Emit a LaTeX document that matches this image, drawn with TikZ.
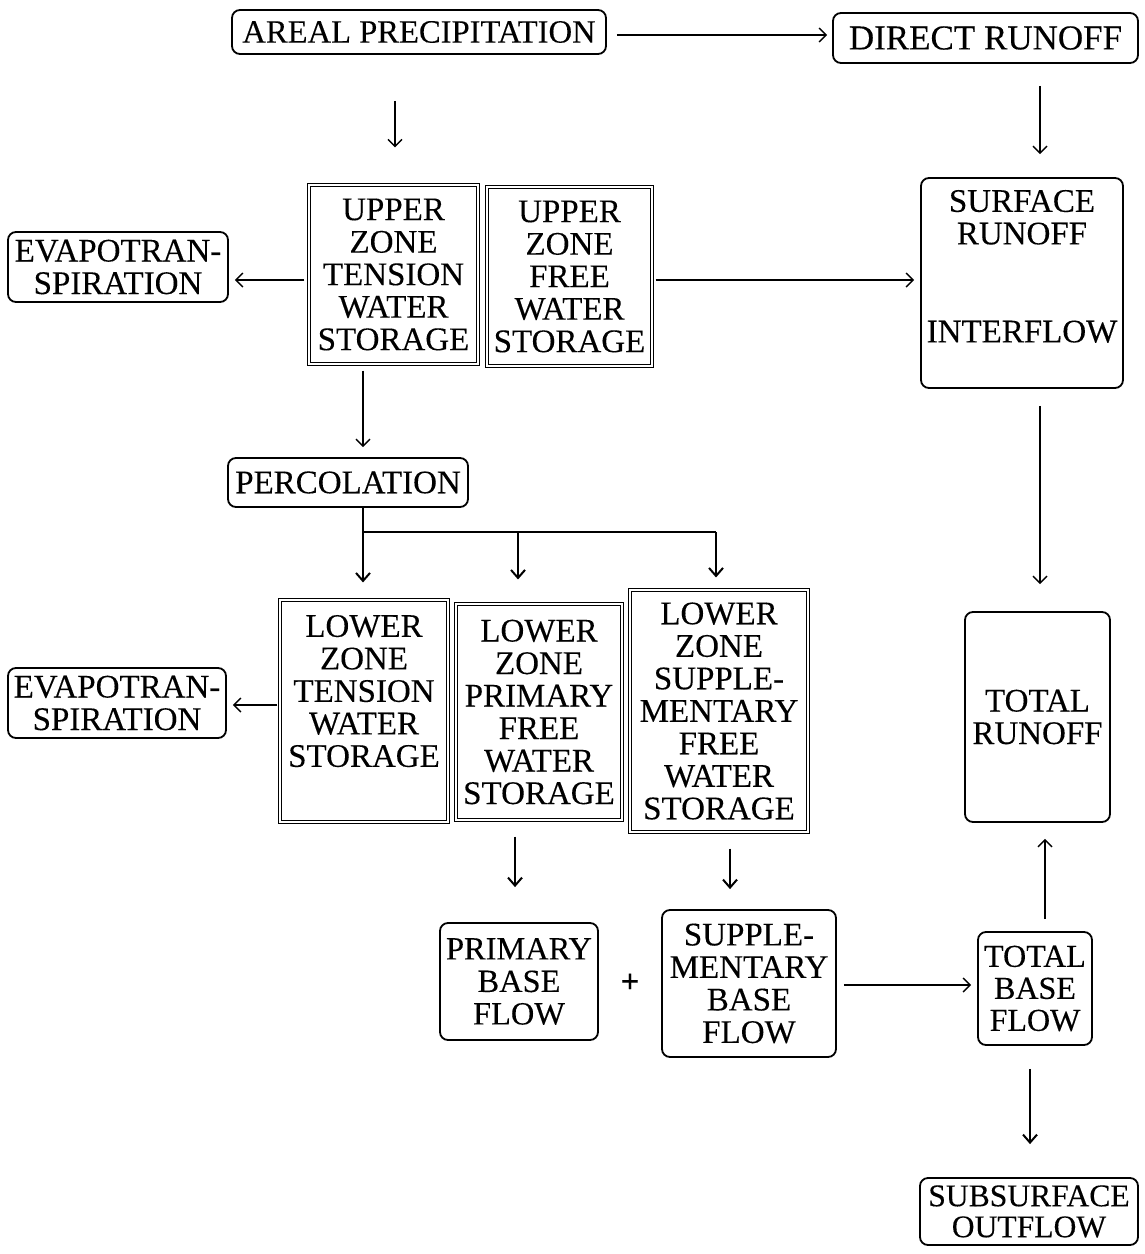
\documentclass[tikz,border=0pt]{standalone}
\usepackage{fontspec}
\setmainfont{Liberation Serif}[FakeBold=0.2]
\usetikzlibrary{arrows.meta}
\newcommand\mytopbox[4]{\parbox[c][#2][t]{#1}{\centering\vspace*{#3}#4}}
\begin{document}
\begin{tikzpicture}[x=0.5pt,y=-0.5pt,
  every node/.style={font=\fontsize{16.5}{16.25}\selectfont},
  rbox/.style={draw, line width=0.9pt, rounded corners=4pt, inner sep=0pt, align=center},
  rboxp/.style={draw, line width=0.9pt, rounded corners=4pt, inner sep=0pt},
  dbox/.style={draw, double, line width=0.55pt, double distance=0.9pt, inner sep=0pt, align=center},
  dboxp/.style={draw, double, line width=0.55pt, double distance=0.9pt, inner sep=0pt},
  arr/.style={line width=0.7pt, -{Straight Barb[length=3.5pt,width=7pt]}},
  arrb/.style={line width=1pt, -{Straight Barb[length=4pt,width=7pt]}}]
\fill[white] (0,0) rectangle (1145,1254);
\useasboundingbox (0,0) rectangle (1145,1254);
% helper coordinates
\coordinate (c395) at (395,0);
\coordinate (c1040) at (1040,0);
\coordinate (c363) at (363,0);
\coordinate (c518) at (518,0);
\coordinate (c716) at (716,0);
\coordinate (c515) at (515,0);
\coordinate (c730) at (730,0);
\coordinate (c1045) at (1045,0);
\coordinate (c1030) at (1030,0);
\coordinate (r35) at (0,35);
\coordinate (r280) at (0,280);
\coordinate (r705) at (0,705);
\coordinate (r985) at (0,985);
\coordinate (j) at (363,532);
% nodes
\node[rbox, font=\fontsize{16.3}{17}\selectfont, minimum width=187pt, minimum height=22pt] (areal) at (419,32) {AREAL PRECIPITATION};
\node[rbox, font=\fontsize{17.5}{18}\selectfont, minimum width=152.5pt, minimum height=25pt] (direct) at (985.5,38) {DIRECT RUNOFF};
\node[dbox, minimum width=84.5pt, minimum height=89.5pt] (uztws) at (393.5,274.5) {UPPER\\ZONE\\TENSION\\WATER\\STORAGE};
\node[dbox, minimum width=82.5pt, minimum height=89.5pt] (uzfws) at (569.5,276.5) {UPPER\\ZONE\\FREE\\WATER\\STORAGE};
\node[rbox, minimum width=110pt, minimum height=35pt] (evapu) at (118,267) {EVAPOTRAN-\\SPIRATION};
\node[rboxp] (surf) at (1022,283) {\mytopbox{101pt}{105pt}{6pt}{SURFACE\\RUNOFF\\[32.75pt]INTERFLOW}};
\node[rbox, minimum width=120pt, minimum height=24.5pt] (perc) at (348,482.5) {PERCOLATION};
\node[rbox, minimum width=109pt, minimum height=35pt] (evapl) at (117,703) {EVAPOTRAN-\\SPIRATION};
\node[dboxp] (lztws) at (364,711) {\mytopbox{84pt}{111pt}{7.5pt}{LOWER\\ZONE\\TENSION\\WATER\\STORAGE}};
\node[dbox, minimum width=83pt, minimum height=108pt] (lzpfws) at (539,712) {LOWER\\ZONE\\PRIMARY\\FREE\\WATER\\STORAGE};
\node[dbox, minimum width=89pt, minimum height=121pt] (lzsfws) at (719,711) {LOWER\\ZONE\\SUPPLE-\\MENTARY\\FREE\\WATER\\STORAGE};
\node[rbox, minimum width=72.5pt, minimum height=105pt] (totrun) at (1037.5,717) {TOTAL\\RUNOFF};
\node[rbox, font=\fontsize{16.2}{16.25}\selectfont, minimum width=79pt, minimum height=58.5pt] (prim) at (519,981.5) {PRIMARY\\BASE\\FLOW};
\node (plus) at (630,983) {\textbf{+}};
\node[rbox, minimum width=87pt, minimum height=73.5pt] (supp) at (749,983.5) {SUPPLE-\\MENTARY\\BASE\\FLOW};
\node[rbox, font=\fontsize{16}{16}\selectfont, minimum width=57pt, minimum height=56.5pt] (totbase) at (1035,988.5) {TOTAL\\BASE\\FLOW};
\node[rbox, font=\fontsize{15.8}{15.5}\selectfont, minimum width=109pt, minimum height=33.5pt] (subout) at (1029,1211.5) {SUBSURFACE\\OUTFLOW};
% connectors
\draw[arr] ([xshift=5pt]areal.east |- r35) -- ([xshift=-2.5pt]direct.west |- r35);
\draw[arr] ([yshift=-23pt]areal.south -| c395) -- ([yshift=18.5pt]uztws.north -| c395);
\draw[arr] ([yshift=-11pt]direct.south -| c1040) -- ([yshift=11.5pt]surf.north -| c1040);
\draw[arr] ([xshift=-2pt]uztws.west |- r280) -- ([xshift=3pt]evapu.east |- r280);
\draw[arr] ([xshift=1.5pt]uzfws.east |- r280) -- ([xshift=-3pt]surf.west |- r280);
\draw[arr] ([yshift=-8.5pt]surf.south -| c1040) -- ([yshift=13.5pt]totrun.north -| c1040);
\draw[arr] ([yshift=-3pt]uztws.south -| c363) -- ([yshift=5pt]perc.north -| c363);
\draw[line width=1pt] (perc.south -| c363) -- (j) -- (j -| c716);
\draw[arrb] (j) -- ([yshift=8.5pt]lztws.north -| c363);
\draw[arrb] (j -| c518) -- ([yshift=12pt]lzpfws.north -| c518);
\draw[arrb] (j -| c716) -- ([yshift=6pt]lzsfws.north -| c716);
\draw[arr] ([xshift=-1pt]lztws.west |- r705) -- ([xshift=3pt]evapl.east |- r705);
\draw[arrb] ([yshift=-8pt]lzpfws.south -| c515) -- ([yshift=17.5pt]prim.north -| c515);
\draw[arrb] ([yshift=-8pt]lzsfws.south -| c730) -- ([yshift=10pt]supp.north -| c730);
\draw[arr] ([xshift=3.5pt]supp.east |- r985) -- ([xshift=-3pt]totbase.west |- r985);
\draw[arr] ([yshift=6pt]totbase.north -| c1045) -- ([yshift=-8pt]totrun.south -| c1045);
\draw[arrb] ([yshift=-11.5pt]totbase.south -| c1030) -- ([yshift=16.5pt]subout.north -| c1030);
\end{tikzpicture}
\end{document}
